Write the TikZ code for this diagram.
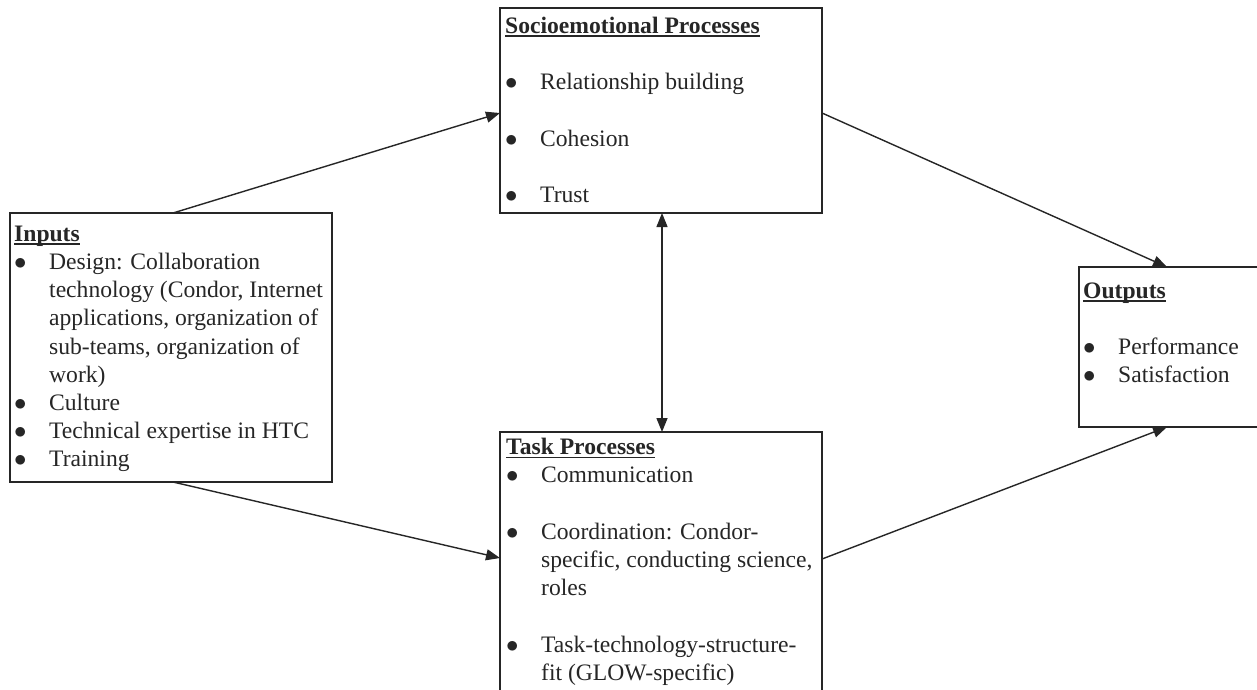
\documentclass[tikz,border=0pt]{standalone}
\usepackage{fontspec}
\setmainfont{Liberation Serif}
\usetikzlibrary{arrows.meta}
\definecolor{ink}{RGB}{38,38,38}
\newcommand\myul[1]{\setbox0\hbox{#1}\rlap{\rule[-3.5pt]{\wd0}{1.6pt}}\box0}
\newcommand\bul{\makebox[35pt][l]{$\bullet$}}
\newcommand\cont{\hspace*{35pt}}
\newcommand\fst{\rule{0pt}{20pt}}
\begin{document}
\begin{tikzpicture}[x=1pt,y=-1pt,
  box/.style={draw=ink, line width=1.8pt, anchor=north west, inner sep=0pt, outer sep=0pt},
  txt/.style={anchor=north west, inner sep=0pt, align=left, text=ink, font=\fontsize{23.6}{28.2}\selectfont},
  arr/.style={draw=ink, line width=1.4pt, -{Triangle[length=14pt,width=11pt]}},
  darr/.style={draw=ink, line width=1.4pt, {Triangle[length=14pt,width=11pt]}-{Triangle[length=14pt,width=11pt]}}]
\useasboundingbox (0,0) rectangle (1257,689);
\fill[white] (0,0) rectangle (1257,689);
% boxes
\node[box, minimum width=322pt, minimum height=269pt] (inputs) at (10,213) {};
\node[box, minimum width=322pt, minimum height=205pt] (socio) at (500,8) {};
\node[box, minimum width=322pt, minimum height=262pt] (task) at (500,432) {};
\node[box, minimum width=182pt, minimum height=160pt] (outputs) at (1079,267) {};
% texts
\node[txt] (inputsT) at (14,221) {\fst\myul{\textbf{Inputs}}\\
\bul Design: Collaboration\\
\cont technology (Condor, Internet\\
\cont applications, organization of\\
\cont sub-teams, organization of\\
\cont work)\\
\bul Culture\\
\bul Technical expertise in HTC\\
\bul Training};
\node[txt] (socioT) at (505,13) {\fst\myul{\textbf{Socioemotional Processes}}\\[28.2pt]
\bul Relationship building\\[28.2pt]
\bul Cohesion\\[28.2pt]
\bul Trust};
\node[txt] (taskT) at (506,434.5) {\fst\myul{\textbf{Task Processes}}\\
\bul Communication\\[28.2pt]
\bul Coordination: Condor-\\
\cont specific, conducting science,\\
\cont roles\\[28.2pt]
\bul Task-technology-structure-\\
\cont fit (GLOW-specific)};
\node[txt] (outputsT) at (1083,278) {\fst\myul{\textbf{Outputs}}\\[28.2pt]
\bul Performance\\
\bul Satisfaction};
% connectors
\draw[arr] ([xshift=163pt]inputs.north west) -- ([yshift=-105pt]socio.north west);
\draw[arr] ([yshift=-105pt]socio.north east) -- ([xshift=88pt]outputs.north west);
\draw[arr] ([xshift=163pt]inputs.south west) -- ([yshift=-126pt]task.north west);
\draw[arr] ([yshift=-127pt]task.north east) -- ([xshift=88pt]outputs.south west);
\draw[darr] ([xshift=162pt]socio.south west) -- ([xshift=162pt]task.north west);
\end{tikzpicture}
\end{document}
